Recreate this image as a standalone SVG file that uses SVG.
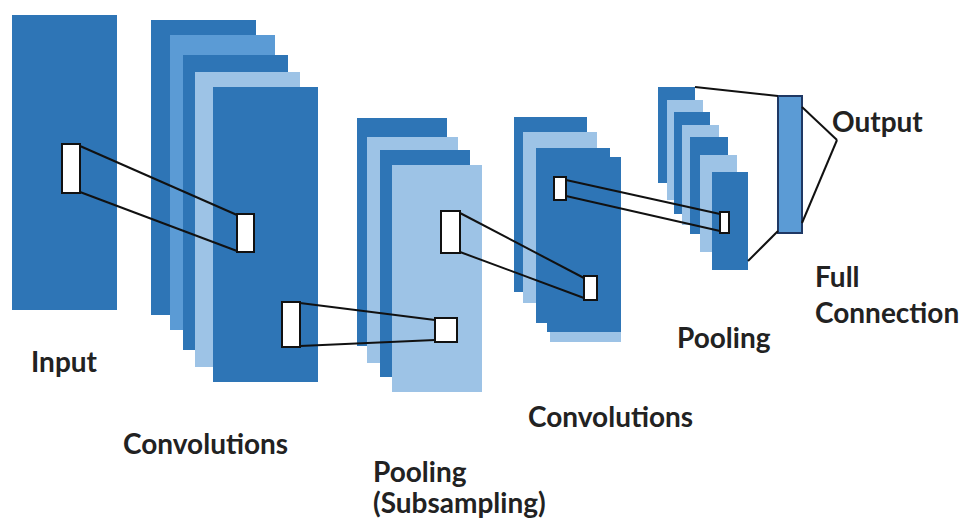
<svg xmlns="http://www.w3.org/2000/svg" width="961" height="529" viewBox="0 0 961 529">
<style>
.d{fill:#2e75b6}
.m{fill:#5b9bd5}
.l{fill:#9dc3e6}
.k{fill:#ffffff;stroke:#111;stroke-width:2}
.c{stroke:#111;stroke-width:2;fill:none}
.t{font-family:Lato,"Open Sans","Liberation Sans",sans-serif;font-weight:bold;font-size:28px;fill:#222}
</style>
<rect width="961" height="529" fill="#fff"/>
<g id="input">
<rect class="d" x="12" y="15" width="105" height="295"/>
<text class="t" x="31" y="372">Input</text>
</g>
<g id="conv1">
<rect class="d" x="151" y="20" width="105" height="295"/>
<rect class="m" x="170" y="35" width="105" height="295"/>
<rect class="d" x="183" y="55" width="105" height="295"/>
<rect class="l" x="195" y="72" width="105" height="295"/>
<rect class="d" x="213" y="87" width="105" height="295"/>
<text class="t" x="123" y="454">Convolutions</text>
</g>
<g id="pool1">
<rect class="d" x="357" y="118" width="90" height="228"/>
<rect class="l" x="367" y="137" width="91" height="226"/>
<rect class="d" x="380" y="150" width="90" height="227"/>
<rect class="l" x="392" y="165" width="90" height="227"/>
<text class="t" x="373" y="482">Pooling</text>
<text class="t" x="373" y="513">(Subsampling)</text>
</g>
<g id="conv2">
<rect class="d" x="514" y="117" width="73" height="175"/>
<rect class="l" x="523" y="132" width="74" height="171"/>
<rect class="d" x="536" y="148" width="74" height="175"/>
<rect class="l" x="550" y="170" width="71" height="172"/>
<rect class="d" x="547" y="157" width="74" height="175"/>
<text class="t" x="528" y="427">Convolutions</text>
</g>
<g id="pool2">
<rect class="d" x="658" y="87" width="37" height="96"/>
<rect class="l" x="667" y="100" width="36" height="100"/>
<rect class="d" x="674" y="112" width="36" height="102"/>
<rect class="l" x="682" y="125" width="37" height="100"/>
<rect class="d" x="690" y="137" width="38" height="97"/>
<rect class="l" x="700" y="155" width="37" height="97"/>
<rect class="d" x="712" y="172" width="36" height="98"/>
<text class="t" x="677" y="348">Pooling</text>
</g>
<g id="output">
<rect x="778" y="96" width="24" height="137" fill="#5b9bd5" stroke="#1f3864" stroke-width="2"/>
<text class="t" x="832" y="132">Output</text>
</g>
<g id="fc-label">
<text class="t" x="815" y="287">Full</text>
<text class="t" x="815" y="323">Connection</text>
</g>
<g id="connectors">
<line class="c" x1="80" y1="146" x2="237" y2="215"/>
<line class="c" x1="80" y1="192" x2="237" y2="251"/>
<line class="c" x1="300" y1="303" x2="435" y2="320"/>
<line class="c" x1="300" y1="346" x2="435" y2="340"/>
<line class="c" x1="460" y1="213" x2="584" y2="278"/>
<line class="c" x1="460" y1="252" x2="584" y2="298"/>
<line class="c" x1="566" y1="180" x2="720" y2="214"/>
<line class="c" x1="566" y1="196" x2="720" y2="231"/>
<line class="c" x1="695" y1="87" x2="778" y2="96"/>
<line class="c" x1="748" y1="261" x2="778" y2="231"/>
<line class="c" x1="802" y1="107" x2="837" y2="140"/>
<line class="c" x1="802" y1="223" x2="837" y2="140"/>
<rect class="k" x="62" y="144" width="18" height="49"/>
<rect class="k" x="237" y="214" width="17" height="38"/>
<rect class="k" x="282" y="302" width="18" height="45"/>
<rect class="k" x="435" y="318" width="22" height="24"/>
<rect class="k" x="441" y="211" width="19" height="42"/>
<rect class="k" x="584" y="276" width="13" height="24"/>
<rect class="k" x="554" y="177" width="12" height="23"/>
<rect class="k" x="720" y="212" width="9" height="21"/>
</g>
</svg>
